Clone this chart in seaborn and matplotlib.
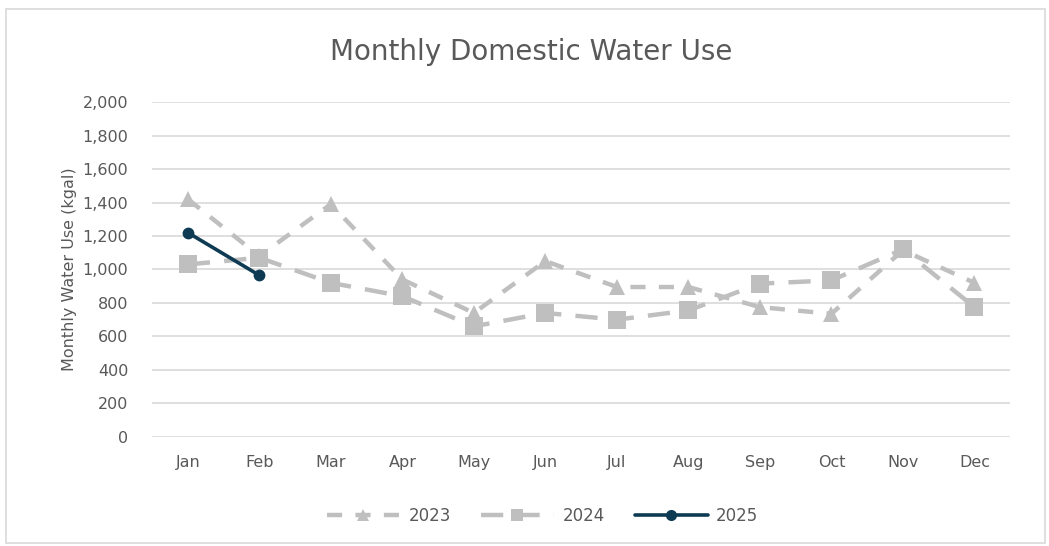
import numpy as np
import pandas as pd
import matplotlib
matplotlib.use("Agg")
import matplotlib.pyplot as plt
import seaborn as sns

months = ["Jan", "Feb", "Mar", "Apr", "May", "Jun", "Jul", "Aug", "Sep", "Oct", "Nov", "Dec"]
use_2023 = [1420, 1080, 1390, 940, 740, 1050, 895, 895, 775, 735, 1115, 920]
use_2024 = [1030, 1070, 920, 840, 660, 740, 700, 755, 915, 935, 1120, 775]
use_2025 = [1220, 965]

sns.set_theme(style="white")
plt.rcParams["font.family"] = ["DejaVu Sans"]

grey = "#BFBFBF"
navy = "#0E3B53"
text_col = "#595959"

fig = plt.figure(figsize=(10.49, 5.46), dpi=100)
ax = fig.add_axes([0.145, 0.2, 0.818, 0.613])

df23 = pd.DataFrame({"m": np.arange(12), "v": use_2023})
df24 = pd.DataFrame({"m": np.arange(12), "v": use_2024})
df25 = pd.DataFrame({"m": np.arange(len(use_2025)), "v": use_2025})

sns.lineplot(data=df23, x="m", y="v", ax=ax, color=grey, lw=3.2, marker="^",
             markersize=12, markeredgewidth=0, dashes=(3.4, 3.0), label="2023", zorder=3)
sns.lineplot(data=df24, x="m", y="v", ax=ax, color=grey, lw=3.2, marker="s",
             markersize=13, markeredgewidth=0, dashes=(5.0, 3.2), label="2024", zorder=3)
sns.lineplot(data=df25, x="m", y="v", ax=ax, color=navy, lw=2.6, marker="o",
             markersize=8.5, markeredgewidth=0, label="2025", zorder=4)

ax.set_xlim(-0.5, 11.5)
ax.set_ylim(0, 2000)
ax.set_yticks(range(0, 2001, 200))
ax.set_yticklabels([f"{t:,}" for t in range(0, 2001, 200)])
ax.set_xticks(range(12))
ax.set_xticklabels(months)
ax.tick_params(axis="both", colors=text_col, labelsize=11.5, length=0)
ax.tick_params(axis="x", pad=13)
ax.tick_params(axis="y", pad=17)
ax.grid(axis="y", color="#D9D9D9", lw=1.2)
ax.set_axisbelow(True)
for s in ax.spines.values():
    s.set_visible(False)
ax.set_xlabel("")
ax.set_ylabel("Monthly Water Use (kgal)", color=text_col, fontsize=11.5, labelpad=4)

fig.suptitle("Monthly Domestic Water Use", x=0.506, y=0.93, fontsize=20, color=text_col)

leg = ax.legend(loc="upper center", bbox_to_anchor=(0.455, -0.165), ncol=3, frameon=False,
                fontsize=12, labelcolor=text_col, handlelength=4.4, columnspacing=1.8,
                handletextpad=0.5)
for h, ms in zip(leg.legend_handles, [8, 8.5, 8]):
    h.set_markersize(ms)

fig.patches.append(plt.Rectangle((0.006, 0.005), 0.99, 0.978, transform=fig.transFigure,
                                 fill=False, edgecolor="#D9D9D9", lw=1.2))

fig.savefig("out.png", dpi=100)
